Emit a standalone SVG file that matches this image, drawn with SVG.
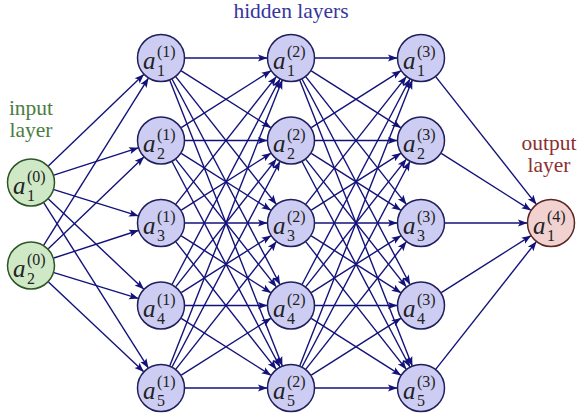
<svg xmlns="http://www.w3.org/2000/svg" width="581" height="418" viewBox="0 0 581 418">
<defs>
<marker id="ah" markerUnits="userSpaceOnUse" viewBox="-10 -5 11 10" refX="0" refY="0" markerWidth="11" markerHeight="10" orient="auto" overflow="visible">
<path d="M0.5,0 L-9,-3.6 L-7,0 L-9,3.6 z" fill="#12127a"/>
</marker>
</defs>
<rect width="581" height="418" fill="#ffffff"/>
<g id="labels" text-anchor="middle">
<text font-family="Liberation Serif, serif" font-size="21.5" x="31" y="114.5" fill="#4b7d3f">input</text>
<text font-family="Liberation Serif, serif" font-size="21.5" x="31" y="137" fill="#4b7d3f">layer</text>
<text font-family="Liberation Serif, serif" font-size="21.5" x="291" y="18" fill="#3535a0">hidden layers</text>
<text font-family="Liberation Serif, serif" font-size="21.5" x="549" y="149.5" fill="#8c3030">output</text>
<text font-family="Liberation Serif, serif" font-size="21.5" x="549" y="172" fill="#8c3030">layer</text>
</g>
<g id="edges" stroke="#12127a" stroke-width="1.4" fill="none" marker-end="url(#ah)">
<line x1="48.33" y1="165.90" x2="143.67" y2="74.60"/>
<line x1="53.84" y1="175.12" x2="138.16" y2="147.88"/>
<line x1="53.91" y1="189.64" x2="138.09" y2="215.86"/>
<line x1="48.43" y1="198.99" x2="143.57" y2="289.01"/>
<line x1="43.83" y1="202.78" x2="148.17" y2="367.72"/>
<line x1="43.74" y1="245.16" x2="148.26" y2="78.34"/>
<line x1="48.30" y1="248.87" x2="143.70" y2="157.13"/>
<line x1="53.81" y1="258.04" x2="138.19" y2="230.46"/>
<line x1="53.94" y1="272.56" x2="138.06" y2="298.44"/>
<line x1="48.47" y1="281.96" x2="143.53" y2="371.54"/>

<line x1="185" y1="58" x2="267" y2="58"/>
<line x1="181.26" y1="70.86" x2="270.74" y2="127.64"/>
<line x1="175.85" y1="76.85" x2="276.15" y2="204.15"/>
<line x1="172.16" y1="79.25" x2="279.84" y2="284.25"/>
<line x1="169.8" y1="80.33" x2="282.2" y2="365.67"/>
<line x1="181.26" y1="127.64" x2="270.74" y2="70.86"/>
<line x1="185" y1="140.5" x2="267" y2="140.5"/>
<line x1="181.26" y1="153.36" x2="270.74" y2="210.14"/>
<line x1="175.85" y1="159.35" x2="276.15" y2="286.65"/>
<line x1="172.16" y1="161.75" x2="279.84" y2="366.75"/>
<line x1="175.85" y1="204.15" x2="276.15" y2="76.85"/>
<line x1="181.26" y1="210.14" x2="270.74" y2="153.36"/>
<line x1="185" y1="223" x2="267" y2="223"/>
<line x1="181.26" y1="235.86" x2="270.74" y2="292.64"/>
<line x1="175.85" y1="241.85" x2="276.15" y2="369.15"/>
<line x1="172.16" y1="284.25" x2="279.84" y2="79.25"/>
<line x1="175.85" y1="286.65" x2="276.15" y2="159.35"/>
<line x1="181.26" y1="292.64" x2="270.74" y2="235.86"/>
<line x1="185" y1="305.5" x2="267" y2="305.5"/>
<line x1="181.26" y1="318.36" x2="270.74" y2="375.14"/>
<line x1="169.8" y1="365.67" x2="282.2" y2="80.33"/>
<line x1="172.16" y1="366.75" x2="279.84" y2="161.75"/>
<line x1="175.85" y1="369.15" x2="276.15" y2="241.85"/>
<line x1="181.26" y1="375.14" x2="270.74" y2="318.36"/>
<line x1="185" y1="388" x2="267" y2="388"/>

<line x1="315" y1="58" x2="397" y2="58"/>
<line x1="311.26" y1="70.86" x2="400.74" y2="127.64"/>
<line x1="305.85" y1="76.85" x2="406.15" y2="204.15"/>
<line x1="302.16" y1="79.25" x2="409.84" y2="284.25"/>
<line x1="299.8" y1="80.33" x2="412.2" y2="365.67"/>
<line x1="311.26" y1="127.64" x2="400.74" y2="70.86"/>
<line x1="315" y1="140.5" x2="397" y2="140.5"/>
<line x1="311.26" y1="153.36" x2="400.74" y2="210.14"/>
<line x1="305.85" y1="159.35" x2="406.15" y2="286.65"/>
<line x1="302.16" y1="161.75" x2="409.84" y2="366.75"/>
<line x1="305.85" y1="204.15" x2="406.15" y2="76.85"/>
<line x1="311.26" y1="210.14" x2="400.74" y2="153.36"/>
<line x1="315" y1="223" x2="397" y2="223"/>
<line x1="311.26" y1="235.86" x2="400.74" y2="292.64"/>
<line x1="305.85" y1="241.85" x2="406.15" y2="369.15"/>
<line x1="302.16" y1="284.25" x2="409.84" y2="79.25"/>
<line x1="305.85" y1="286.65" x2="406.15" y2="159.35"/>
<line x1="311.26" y1="292.64" x2="400.74" y2="235.86"/>
<line x1="315" y1="305.5" x2="397" y2="305.5"/>
<line x1="311.26" y1="318.36" x2="400.74" y2="375.14"/>
<line x1="299.8" y1="365.67" x2="412.2" y2="80.33"/>
<line x1="302.16" y1="366.75" x2="409.84" y2="161.75"/>
<line x1="305.85" y1="369.15" x2="406.15" y2="241.85"/>
<line x1="311.26" y1="375.14" x2="400.74" y2="318.36"/>
<line x1="315" y1="388" x2="397" y2="388"/>

<line x1="435.85" y1="76.85" x2="536.15" y2="204.15"/>
<line x1="441.26" y1="153.36" x2="530.74" y2="210.14"/>
<line x1="445" y1="223" x2="527" y2="223"/>
<line x1="441.26" y1="292.64" x2="530.74" y2="235.86"/>
<line x1="435.85" y1="369.15" x2="536.15" y2="241.85"/>
</g>

<g id="nodes" stroke-width="1.5">
<g id="input-nodes" fill="#cfe8c6" stroke="#2c5626">
<g id="in1"><circle cx="31" cy="182.5" r="23.5"/><g fill="#222" stroke="none"><text font-family="Liberation Serif, serif" font-style="italic" font-size="25" x="13" y="193.5">a</text><text font-family="Liberation Serif, serif" font-size="16" x="27" y="181.5">(0)</text><text font-family="Liberation Serif, serif" font-size="16" x="27" y="200.5">1</text></g></g>
<g id="in2"><circle cx="31" cy="265.5" r="23.5"/><g fill="#222" stroke="none"><text font-family="Liberation Serif, serif" font-style="italic" font-size="25" x="13" y="276.5">a</text><text font-family="Liberation Serif, serif" font-size="16" x="27" y="264.5">(0)</text><text font-family="Liberation Serif, serif" font-size="16" x="27" y="283.5">2</text></g></g>
</g>
<g id="hidden-nodes" fill="#cdcdf3" stroke="#1f1f5e">
<g id="h11"><circle cx="161" cy="58" r="23.5"/><g fill="#222" stroke="none"><text font-family="Liberation Serif, serif" font-style="italic" font-size="25" x="143" y="69">a</text><text font-family="Liberation Serif, serif" font-size="16" x="157" y="57">(1)</text><text font-family="Liberation Serif, serif" font-size="16" x="157" y="76">1</text></g></g>
<g id="h12"><circle cx="161" cy="140.5" r="23.5"/><g fill="#222" stroke="none"><text font-family="Liberation Serif, serif" font-style="italic" font-size="25" x="143" y="151.5">a</text><text font-family="Liberation Serif, serif" font-size="16" x="157" y="139.5">(1)</text><text font-family="Liberation Serif, serif" font-size="16" x="157" y="158.5">2</text></g></g>
<g id="h13"><circle cx="161" cy="223" r="23.5"/><g fill="#222" stroke="none"><text font-family="Liberation Serif, serif" font-style="italic" font-size="25" x="143" y="234">a</text><text font-family="Liberation Serif, serif" font-size="16" x="157" y="222">(1)</text><text font-family="Liberation Serif, serif" font-size="16" x="157" y="241">3</text></g></g>
<g id="h14"><circle cx="161" cy="305.5" r="23.5"/><g fill="#222" stroke="none"><text font-family="Liberation Serif, serif" font-style="italic" font-size="25" x="143" y="316.5">a</text><text font-family="Liberation Serif, serif" font-size="16" x="157" y="304.5">(1)</text><text font-family="Liberation Serif, serif" font-size="16" x="157" y="323.5">4</text></g></g>
<g id="h15"><circle cx="161" cy="388" r="23.5"/><g fill="#222" stroke="none"><text font-family="Liberation Serif, serif" font-style="italic" font-size="25" x="143" y="399">a</text><text font-family="Liberation Serif, serif" font-size="16" x="157" y="387">(1)</text><text font-family="Liberation Serif, serif" font-size="16" x="157" y="406">5</text></g></g>
<g id="h21"><circle cx="291" cy="58" r="23.5"/><g fill="#222" stroke="none"><text font-family="Liberation Serif, serif" font-style="italic" font-size="25" x="273" y="69">a</text><text font-family="Liberation Serif, serif" font-size="16" x="287" y="57">(2)</text><text font-family="Liberation Serif, serif" font-size="16" x="287" y="76">1</text></g></g>
<g id="h22"><circle cx="291" cy="140.5" r="23.5"/><g fill="#222" stroke="none"><text font-family="Liberation Serif, serif" font-style="italic" font-size="25" x="273" y="151.5">a</text><text font-family="Liberation Serif, serif" font-size="16" x="287" y="139.5">(2)</text><text font-family="Liberation Serif, serif" font-size="16" x="287" y="158.5">2</text></g></g>
<g id="h23"><circle cx="291" cy="223" r="23.5"/><g fill="#222" stroke="none"><text font-family="Liberation Serif, serif" font-style="italic" font-size="25" x="273" y="234">a</text><text font-family="Liberation Serif, serif" font-size="16" x="287" y="222">(2)</text><text font-family="Liberation Serif, serif" font-size="16" x="287" y="241">3</text></g></g>
<g id="h24"><circle cx="291" cy="305.5" r="23.5"/><g fill="#222" stroke="none"><text font-family="Liberation Serif, serif" font-style="italic" font-size="25" x="273" y="316.5">a</text><text font-family="Liberation Serif, serif" font-size="16" x="287" y="304.5">(2)</text><text font-family="Liberation Serif, serif" font-size="16" x="287" y="323.5">4</text></g></g>
<g id="h25"><circle cx="291" cy="388" r="23.5"/><g fill="#222" stroke="none"><text font-family="Liberation Serif, serif" font-style="italic" font-size="25" x="273" y="399">a</text><text font-family="Liberation Serif, serif" font-size="16" x="287" y="387">(2)</text><text font-family="Liberation Serif, serif" font-size="16" x="287" y="406">5</text></g></g>
<g id="h31"><circle cx="421" cy="58" r="23.5"/><g fill="#222" stroke="none"><text font-family="Liberation Serif, serif" font-style="italic" font-size="25" x="403" y="69">a</text><text font-family="Liberation Serif, serif" font-size="16" x="417" y="57">(3)</text><text font-family="Liberation Serif, serif" font-size="16" x="417" y="76">1</text></g></g>
<g id="h32"><circle cx="421" cy="140.5" r="23.5"/><g fill="#222" stroke="none"><text font-family="Liberation Serif, serif" font-style="italic" font-size="25" x="403" y="151.5">a</text><text font-family="Liberation Serif, serif" font-size="16" x="417" y="139.5">(3)</text><text font-family="Liberation Serif, serif" font-size="16" x="417" y="158.5">2</text></g></g>
<g id="h33"><circle cx="421" cy="223" r="23.5"/><g fill="#222" stroke="none"><text font-family="Liberation Serif, serif" font-style="italic" font-size="25" x="403" y="234">a</text><text font-family="Liberation Serif, serif" font-size="16" x="417" y="222">(3)</text><text font-family="Liberation Serif, serif" font-size="16" x="417" y="241">3</text></g></g>
<g id="h34"><circle cx="421" cy="305.5" r="23.5"/><g fill="#222" stroke="none"><text font-family="Liberation Serif, serif" font-style="italic" font-size="25" x="403" y="316.5">a</text><text font-family="Liberation Serif, serif" font-size="16" x="417" y="304.5">(3)</text><text font-family="Liberation Serif, serif" font-size="16" x="417" y="323.5">4</text></g></g>
<g id="h35"><circle cx="421" cy="388" r="23.5"/><g fill="#222" stroke="none"><text font-family="Liberation Serif, serif" font-style="italic" font-size="25" x="403" y="399">a</text><text font-family="Liberation Serif, serif" font-size="16" x="417" y="387">(3)</text><text font-family="Liberation Serif, serif" font-size="16" x="417" y="406">5</text></g></g>
</g>
<g id="output-nodes" fill="#f1d2d0" stroke="#5a2626">
<g id="out1"><circle cx="551" cy="223" r="23.5"/><g fill="#222" stroke="none"><text font-family="Liberation Serif, serif" font-style="italic" font-size="25" x="533" y="234">a</text><text font-family="Liberation Serif, serif" font-size="16" x="547" y="222">(4)</text><text font-family="Liberation Serif, serif" font-size="16" x="547" y="241">1</text></g></g>
</g>
</g>
</svg>
